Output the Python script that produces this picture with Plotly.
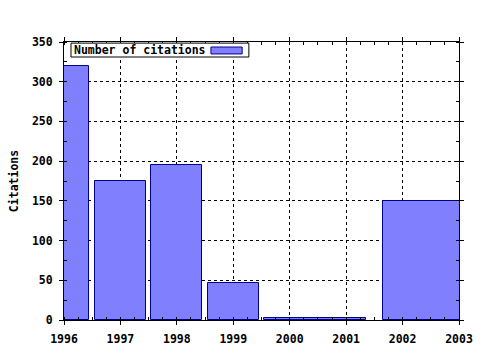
import plotly.graph_objects as go

# Data
bin_labels = ["1996", "1997", "1998", "1999", "2000-2001", "2002-2003"]
bin_start = [1995.55, 1996.55, 1997.55, 1998.55, 1999.55, 2001.65]
bin_end = [1996.45, 1997.45, 1998.45, 1999.45, 2001.35, 2003.35]
citations = [320, 175, 195, 47, 3, 150]
year_ticks = [1996, 1997, 1998, 1999, 2000, 2001, 2002, 2003]
y_ticks = [0, 50, 100, 150, 200, 250, 300, 350]
series_name = "Number of citations"

centers = [(a + b) / 2 for a, b in zip(bin_start, bin_end)]
widths = [b - a for a, b in zip(bin_start, bin_end)]

FONT = "DejaVu Sans Mono"
BAR_FILL = "#8080ff"
BAR_LINE = "#00008b"
tfont = dict(family=FONT, size=11.5, color="black", weight="bold")

fig = go.Figure()
fig.add_trace(go.Bar(
    x=centers, y=citations, width=widths, name=series_name,
    text=bin_labels, hoverinfo="y+text", textposition="none",
    marker=dict(color=BAR_FILL, line=dict(color=BAR_LINE, width=1)),
    showlegend=False,
))

axis_common = dict(
    showline=True, linecolor="black", linewidth=1, mirror="allticks",
    ticks="outside", ticklen=4, tickcolor="black",
    showgrid=True, gridcolor="black", griddash="dot", gridwidth=1,
    zeroline=False, automargin=False,
    tickfont=tfont, ticklabelstandoff=4,
)

# legend drawn as a boxed label with a swatch on its right (as in the reference)
fig.add_shape(type="rect", xref="paper", yref="paper",
              x0=0.0177, x1=0.468, y0=0.946, y1=0.996,
              line=dict(color="black", width=1), fillcolor="white", layer="above")
fig.add_shape(type="rect", xref="paper", yref="paper",
              x0=0.372, x1=0.451, y0=0.957, y1=0.982,
              line=dict(color=BAR_LINE, width=1), fillcolor=BAR_FILL, layer="above")
fig.add_annotation(xref="paper", yref="paper", x=0.02, y=0.971,
                   xanchor="left", yanchor="middle", showarrow=False,
                   text=series_name, font=tfont)

fig.update_layout(
    width=480, height=350,
    margin=dict(l=64, r=21, t=42, b=30),
    paper_bgcolor="white", plot_bgcolor="white",
    bargap=0,
    xaxis=dict(range=[1996, 2003], tickvals=year_ticks,
               ticktext=[str(y) for y in year_ticks],
               minor=dict(ticks="inside", ticklen=3, tickcolor="black",
                          tick0=1996, dtick=0.25, showgrid=False),
               **axis_common),
    yaxis=dict(range=[0, 350], tickvals=y_ticks,
               minor=dict(ticks="inside", ticklen=3, tickcolor="black",
                          tick0=0, dtick=25, showgrid=False),
               title=dict(text="Citations", standoff=10, font=tfont),
               **axis_common),
)

fig.write_html("out.html")
